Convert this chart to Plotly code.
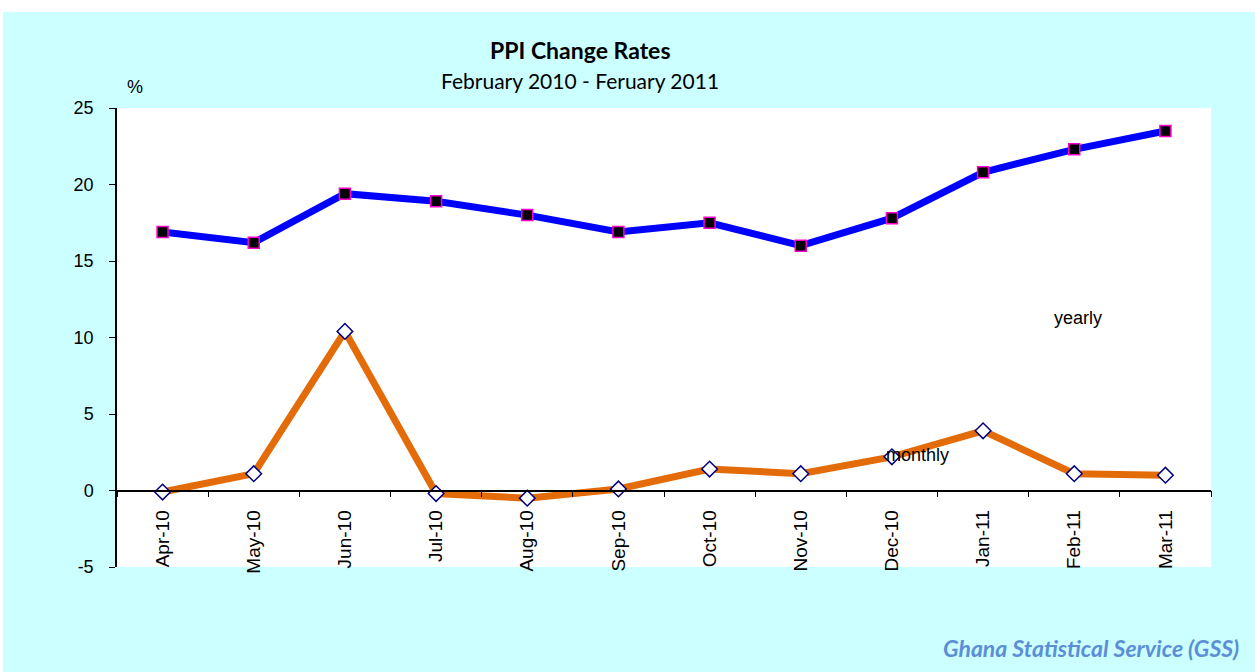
import plotly.graph_objects as go

# Producer price index change rates (%)
months = ["Apr-10", "May-10", "Jun-10", "Jul-10", "Aug-10", "Sep-10",
          "Oct-10", "Nov-10", "Dec-10", "Jan-11", "Feb-11", "Mar-11"]
yearly = [16.9, 16.2, 19.4, 18.9, 18.0, 16.9, 17.5, 16.0, 17.8, 20.8, 22.3, 23.5]
monthly = [-0.1, 1.1, 10.4, -0.2, -0.5, 0.1, 1.4, 1.1, 2.2, 3.9, 1.1, 1.0]

y_ticks = [-5, 0, 5, 10, 15, 20, 25]
y_tick_text = ["-5", "0", "5", "10", "15", "20", "25"]
y_min, y_max = -5, 25

AXIS_FONT = dict(family="Liberation Sans, Arial, sans-serif", size=18, color="black")
X_FONT = dict(family="Liberation Sans, Arial, sans-serif", size=19, color="black")
TITLE_FONT = "Lato, Carlito, Calibri, sans-serif"
# x axis crosses the y axis at zero
zero_pos = (0 - y_min) / (y_max - y_min)
n = len(months)

# plot-area geometry in pixels, for placing paper-referenced items
W, H = 1255, 672
L, R, T, B = 117, 44, 108, 105
PW, PH = W - L - R, H - T - B


def px(x):
    return (x - L) / PW


def py(y):
    return (H - B - y) / PH


fig = go.Figure()

fig.add_trace(go.Scatter(
    x=months, y=yearly, name="yearly", mode="lines+markers",
    line=dict(color="#0000FF", width=7),
    marker=dict(symbol="square", size=11, color="black",
                line=dict(color="#FF00CC", width=1.5)),
    xaxis="x", yaxis="y",
))
fig.add_trace(go.Scatter(
    x=months, y=monthly, name="monthly", mode="lines+markers",
    line=dict(color="#E36C09", width=7),
    marker=dict(symbol="diamond", size=12, color="white",
                line=dict(color="#000080", width=1.5)),
    xaxis="x", yaxis="y",
))
# carrier for the tick-mark axis between categories
fig.add_trace(go.Scatter(
    x=[-0.5, n - 0.5], y=[None, None], mode="lines",
    showlegend=False, hoverinfo="skip", xaxis="x2", yaxis="y",
))

fig.update_layout(
    width=W, height=H,
    margin=dict(l=L, r=R, t=T, b=B),
    paper_bgcolor="white",
    plot_bgcolor="white",
    showlegend=False,
    xaxis=dict(
        type="category", categoryorder="array", categoryarray=months,
        range=[-0.5, n - 0.5],
        anchor="free", position=zero_pos,
        showline=False, showgrid=False, zeroline=False,
        ticks="", tickangle=-90, tickfont=X_FONT,
        ticklabelstandoff=15,
    ),
    xaxis2=dict(
        overlaying="x", range=[-0.5, n - 0.5],
        anchor="free", position=zero_pos,
        showline=True, linecolor="black", linewidth=1.5,
        showgrid=False, zeroline=False,
        ticks="outside", ticklen=6, tickcolor="black", tickwidth=1,
        tickvals=[i - 0.5 for i in range(n + 1)],
        showticklabels=False,
    ),
    yaxis=dict(
        range=[y_min, y_max], tickvals=y_ticks, ticktext=y_tick_text,
        showline=True, linecolor="black", linewidth=1.5,
        showgrid=False, zeroline=False,
        ticks="outside", ticklen=6, tickcolor="black",
        tickfont=AXIS_FONT, ticklabelstandoff=12,
    ),
    shapes=[
        # light cyan chart background
        dict(type="rect", xref="paper", yref="paper", layer="below",
             x0=px(3), x1=px(W), y0=py(H), y1=py(12),
             fillcolor="#CCFFFF", line=dict(width=0)),
        # white plotting area
        dict(type="rect", xref="paper", yref="paper", layer="below",
             x0=0, x1=1, y0=0, y1=1,
             fillcolor="white", line=dict(width=0)),
    ],
    annotations=[
        dict(text="<b>PPI Change Rates</b>", xref="paper", yref="paper",
             x=px(580), y=py(50),
             showarrow=False, xanchor="center", yanchor="middle",
             font=dict(family=TITLE_FONT, size=23, color="black")),
        dict(text="February 2010 - Feruary 2011", xref="paper", yref="paper",
             x=px(580), y=py(80),
             showarrow=False, xanchor="center", yanchor="middle",
             font=dict(family=TITLE_FONT, size=21, color="black")),
        dict(text="%", xref="paper", yref="paper",
             x=px(135), y=py(87),
             showarrow=False, xanchor="center", yanchor="middle",
             font=AXIS_FONT),
        dict(text="yearly", xref="paper", yref="paper",
             x=px(1078), y=py(318),
             showarrow=False, xanchor="center", yanchor="middle",
             font=AXIS_FONT),
        dict(text="monthly", xref="paper", yref="paper",
             x=px(917), y=py(455),
             showarrow=False, xanchor="center", yanchor="middle",
             font=AXIS_FONT),
        dict(text="<b><i>Ghana Statistical Service (GSS)</i></b>",
             xref="paper", yref="paper",
             x=px(1241), y=py(648),
             showarrow=False, xanchor="right", yanchor="middle",
             font=dict(family=TITLE_FONT, size=23, color="#5B8ED6")),
    ],
)

fig.write_html("out.html")
